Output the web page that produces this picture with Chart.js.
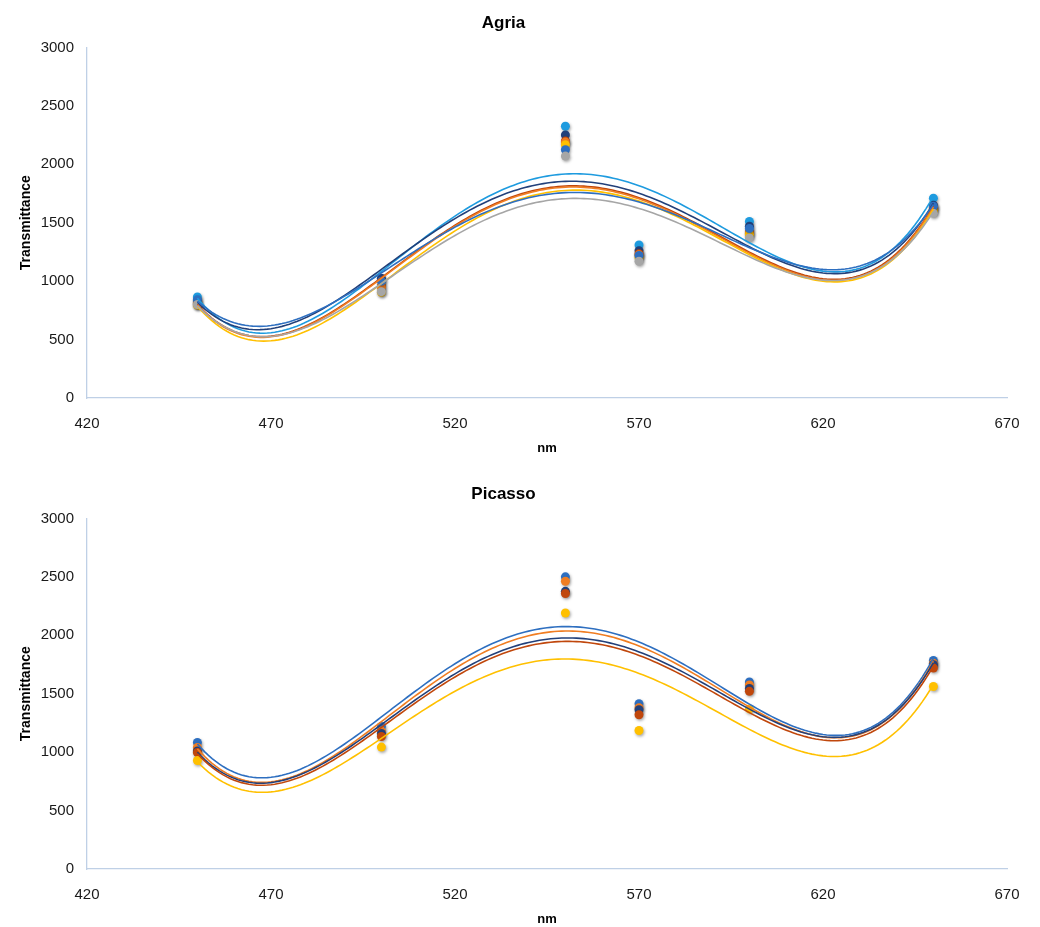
<!DOCTYPE html>
<html>
<head>
<meta charset="utf-8">
<script src="https://cdn.jsdelivr.net/npm/chart.js@4.4.1/dist/chart.umd.min.js"></script>
<style>
  html, body { margin: 0; padding: 0; background: #ffffff; }
  #wrap { position: relative; width: 1040px; height: 927px; background: #fff; overflow: hidden; }
  .box { position: absolute; left: 0; width: 1040px; height: 458px; }
</style>
</head>
<body>
<div id="wrap">
  <div class="box" style="top:0px"><canvas id="c1"></canvas></div>
  <div class="box" style="top:471px"><canvas id="c2"></canvas></div>
</div>
<script>
// ---- data ----
const wavelengths = [450, 500, 550, 570, 600, 650];
const xTicks = [420, 470, 520, 570, 620, 670];
const yTicks = [0, 500, 1000, 1500, 2000, 2500, 3000];

// Agria
const agriaLightBlue = [865, 1005, 2325, 1310, 1510, 1710];
const agriaNavy      = [830, 1025, 2250, 1260, 1470, 1650];
const agriaBlue      = [840, 1000, 2125, 1220, 1450, 1640];
const agriaBrown     = [812, 957, 2200, 1235, 1420, 1630];
const agriaOrange    = [805, 950, 2190, 1225, 1410, 1620];
const agriaYellow    = [795, 905, 2167, 1200, 1400, 1600];
const agriaGray      = [800, 910, 2070, 1170, 1370, 1580];

// Picasso
const picassoBlue   = [1082, 1220, 2500, 1414, 1600, 1785];
const picassoOrange = [1040, 1180, 2462, 1380, 1575, 1760];
const picassoNavy   = [1010, 1160, 2376, 1363, 1545, 1748];
const picassoBrown  = [997, 1134, 2357, 1320, 1520, 1720];
const picassoYellow = [928, 1043, 2191, 1185, 1370, 1562];

const COLORS = {
  lightBlue: '#1E9BDF', navy: '#22407A', blue: '#2E6FC0', brown: '#C0470C',
  orange: '#F07D22', yellow: '#FFC000', gray: '#A6A6A6'
};

// ---- polynomial (order 4) least-squares trendline, as in the original spreadsheet ----
function polyFit(xs, ys, deg) {
  const c = 550, s = 100;
  const n = deg + 1;
  const A = Array.from({length: n}, () => new Array(n + 1).fill(0));
  xs.forEach((x, k) => {
    const t = (x - c) / s;
    for (let i = 0; i < n; i++) {
      for (let j = 0; j < n; j++) A[i][j] += Math.pow(t, i + j);
      A[i][n] += ys[k] * Math.pow(t, i);
    }
  });
  for (let i = 0; i < n; i++) {
    let p = i;
    for (let r = i + 1; r < n; r++) if (Math.abs(A[r][i]) > Math.abs(A[p][i])) p = r;
    [A[i], A[p]] = [A[p], A[i]];
    for (let r = 0; r < n; r++) {
      if (r === i) continue;
      const f = A[r][i] / A[i][i];
      for (let j = i; j <= n; j++) A[r][j] -= f * A[i][j];
    }
  }
  const coef = A.map((row, i) => row[n] / row[i]);
  return x => { const t = (x - c) / s; return coef.reduce((acc, a, i) => acc + a * Math.pow(t, i), 0); };
}
function trend(ys) {
  const f = polyFit(wavelengths, ys, 4);
  const pts = [];
  const x0 = wavelengths[0], x1 = wavelengths[wavelengths.length - 1];
  for (let x = x0; x <= x1 + 1e-9; x += 1) pts.push({x: x, y: f(x)});
  return pts;
}

const FONT = "'Liberation Sans', Arial, sans-serif";

// soft shadow under the markers, like the original spreadsheet style
const markerShadow = {
  id: 'markerShadow',
  beforeDatasetDraw(chart, args) {
    const ds = chart.data.datasets[args.index];
    if (ds.type !== 'scatter') return;
    const ctx = chart.ctx;
    ctx.save();
    ctx.shadowColor = 'rgba(0,0,0,0.35)';
    ctx.shadowBlur = 3;
    ctx.shadowOffsetX = 1;
    ctx.shadowOffsetY = 1.5;
  },
  afterDatasetDraw(chart, args) {
    const ds = chart.data.datasets[args.index];
    if (ds.type !== 'scatter') return;
    chart.ctx.restore();
  }
};

function buildDatasets(series) {
  const ds = [];
  series.forEach(s => {
    ds.push({
      type: 'scatter', label: s.name,
      data: wavelengths.map((x, i) => ({x: x, y: s.values[i]})),
      backgroundColor: s.color, borderColor: s.color,
      pointRadius: 4.5, pointHoverRadius: 4.5, borderWidth: 0, order: 2
    });
  });
  series.forEach(s => {
    ds.push({
      type: 'line', label: s.name + ' trend', data: trend(s.values),
      borderColor: s.color, borderWidth: 1.6, pointRadius: 0, fill: false,
      tension: 0, order: 1
    });
  });
  return ds;
}

function makeChart(id, title, series) {
  return new Chart(document.getElementById(id), {
    type: 'scatter',
    data: { datasets: buildDatasets(series) },
    plugins: [markerShadow],
    options: {
      responsive: true, maintainAspectRatio: false, animation: false,
      layout: { padding: { left: 0, right: 33, top: 0, bottom: 0 } },
      plugins: {
        legend: { display: false }, tooltip: { enabled: false },
        title: { display: true, text: title, color: '#000',
          font: { family: FONT, size: 17, weight: 'bold' }, padding: { top: 13, bottom: 14 } }
      },
      scales: {
        x: {
          type: 'linear', min: xTicks[0], max: xTicks[xTicks.length - 1],
          afterBuildTicks: sc => { sc.ticks = xTicks.map(v => ({value: v})); },
          afterFit: sc => { sc.height = 60; },
          grid: { display: false, drawTicks: false },
          border: { display: true, color: '#BFD0E6', width: 1.3 },
          ticks: { color: '#1a1a1a', font: { family: FONT, size: 15 }, padding: 17, maxRotation: 0,
            callback: v => String(v) },
          title: { display: true, text: 'nm', color: '#000',
            font: { family: FONT, size: 13, weight: 'bold' }, padding: { top: 0, bottom: 2 } }
        },
        y: {
          type: 'linear', min: yTicks[0], max: yTicks[yTicks.length - 1],
          afterBuildTicks: sc => { sc.ticks = yTicks.map(v => ({value: v})); },
          afterFit: sc => { sc.width = 87; },
          grid: { display: false, drawTicks: false },
          border: { display: true, color: '#BFD0E6', width: 1.3 },
          ticks: { color: '#1a1a1a', font: { family: FONT, size: 15 }, padding: 13,
            callback: v => String(v) },
          title: { display: true, text: 'Transmittance', color: '#000',
            font: { family: FONT, size: 14, weight: 'bold' }, padding: { top: 18, bottom: 0 } }
        }
      }
    }
  });
}

makeChart('c1', 'Agria', [
  {name: 'S1', color: COLORS.gray, values: agriaGray},
  {name: 'S2', color: COLORS.blue, values: agriaBlue},
  {name: 'S3', color: COLORS.yellow, values: agriaYellow},
  {name: 'S4', color: COLORS.orange, values: agriaOrange},
  {name: 'S5', color: COLORS.brown, values: agriaBrown},
  {name: 'S6', color: COLORS.navy, values: agriaNavy},
  {name: 'S7', color: COLORS.lightBlue, values: agriaLightBlue}
]);
makeChart('c2', 'Picasso', [
  {name: 'S1', color: COLORS.yellow, values: picassoYellow},
  {name: 'S2', color: COLORS.brown, values: picassoBrown},
  {name: 'S3', color: COLORS.navy, values: picassoNavy},
  {name: 'S4', color: COLORS.orange, values: picassoOrange},
  {name: 'S5', color: COLORS.blue, values: picassoBlue}
]);
</script>
</body>
</html>
